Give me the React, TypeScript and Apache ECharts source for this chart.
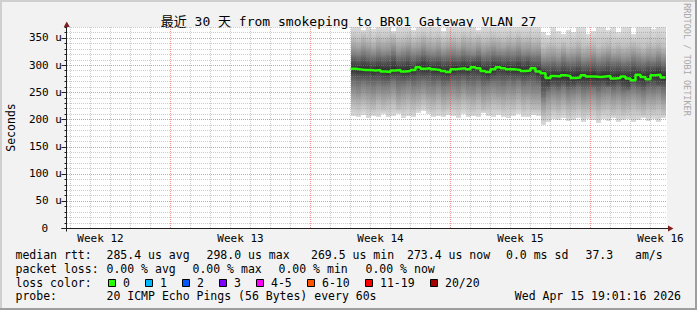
import React, { useEffect, useRef } from 'react';
import * as echarts from 'echarts';

const MONO = "'DejaVu Sans Mono', 'Noto Sans CJK SC', monospace";

// ---------- texts ----------
const titleText = '最近 30 天 from smokeping to BR01 Gateway VLAN 27';
const yAxisTitle = 'Seconds';
const watermark = 'RRDTOOL / TOBI OETIKER';

// ---------- axes ----------
// x unit: days since Tue 17 Mar 2026 00:00; the graph covers the 30 days ending Wed 15 Apr 2026 19:01
const xStart = -0.175;
const xEnd = 29.825;
const yStart = 0;
const yEnd = 370;
const yLabelStep = 50;
const yMinorStep = 10;
const weekLines = [5, 12, 19, 26];
const dayLines = [0, 1, 2, 3, 4, 6, 7, 8, 9, 10, 11, 13, 14, 15, 16, 17, 18, 20, 21, 22, 23, 24, 25, 27, 28, 29];
const weekLabels = ['Week 12', 'Week 13', 'Week 14', 'Week 15', 'Week 16'];
const weekLabelDays = [1.5, 8.5, 15.5, 22.5, 29.5];

// ---------- samples (6 h steps from day 14) ----------
const sampleStart = 14;
const sampleStep = 0.25;

const median = [
  293, 292, 291, 291, 290, 291, 288, 287, 290, 291, 288, 289, 291, 296, 293, 294, 292, 291, 289, 287,
  292, 293, 294, 292, 296, 294, 289, 287, 292, 296, 294, 292, 292, 291, 289, 290, 294, 288,
  285, 276, 280, 279, 281, 280, 276, 277, 281, 279, 279, 278, 279, 280, 275, 276, 279, 275, 272, 282,
  278, 274, 281, 282, 277,
];
// smoke band edges (us), outermost first
const smokeTop = [
  375, 375, 364, 375, 366, 375, 375, 375, 363, 375, 375, 375, 365, 375, 375, 375, 375, 375, 362, 375,
  375, 375, 375, 375, 375, 364, 375, 375, 375, 375, 375, 375, 375, 375, 375, 375, 375, 375,
  360, 356, 375, 362, 358, 365, 360, 375, 375, 358, 362, 375, 375, 364, 375, 360, 375, 375, 357, 375,
  375, 375, 366, 375, 370,
];
const smokeBottom = [
  206, 204, 208, 203, 207, 205, 210, 204, 206, 209, 203, 207, 205, 212, 216, 210, 205, 207, 204, 208,
  206, 203, 210, 205, 207, 204, 212, 206, 204, 208, 205, 203, 207, 210, 205, 204, 208, 206,
  190, 196, 200, 198, 202, 197, 199, 203, 196, 200, 198, 194, 200, 197, 203, 195, 199, 201, 196, 198,
  202, 197, 200, 196, 203,
];
const upper1 = [
  352, 348, 355, 350, 346, 353, 349, 351, 356, 347, 350, 354, 348, 352, 357, 351, 349, 353, 346, 350,
  352, 348, 355, 351, 349, 353, 347, 350, 354, 351, 348, 352, 350, 355, 349, 351, 347, 350,
  335, 338, 340, 336, 342, 337, 339, 344, 336, 338, 341, 335, 339, 343, 337, 340, 336, 338, 342, 339,
  335, 340, 338, 343, 337,
];
const lower1 = [
  223, 220, 225, 221, 218, 224, 219, 222, 226, 218, 221, 225, 219, 223, 228, 222, 219, 224, 217, 221,
  223, 220, 226, 222, 219, 224, 218, 221, 225, 222, 219, 223, 221, 226, 219, 222, 218, 218,
  205, 210, 216, 212, 217, 211, 214, 218, 211, 213, 216, 210, 215, 218, 212, 215, 210, 213, 217, 214,
  209, 216, 213, 218, 211,
];
const upper2 = [
  334, 331, 336, 333, 329, 335, 332, 334, 338, 330, 333, 336, 331, 334, 339, 333, 331, 335, 329, 333,
  335, 331, 337, 334, 332, 336, 330, 333, 337, 334, 331, 335, 333, 337, 332, 334, 330, 332,
  318, 321, 323, 319, 325, 320, 322, 326, 319, 321, 324, 318, 322, 325, 320, 323, 319, 321, 325, 322,
  318, 323, 321, 326, 320,
];
const lower2 = [
  243, 240, 245, 241, 238, 243, 239, 242, 246, 238, 241, 245, 239, 243, 247, 242, 239, 244, 237, 241,
  243, 240, 246, 242, 239, 244, 237, 241, 245, 242, 239, 243, 241, 246, 239, 242, 238, 238,
  222, 230, 236, 232, 237, 231, 234, 238, 231, 233, 236, 230, 235, 238, 232, 235, 230, 233, 237, 234,
  229, 236, 233, 238, 231,
];
const upper3 = [
  318, 316, 320, 317, 314, 319, 316, 318, 322, 315, 317, 320, 315, 318, 323, 318, 316, 319, 314, 317,
  319, 316, 321, 318, 316, 320, 315, 317, 321, 318, 316, 319, 317, 321, 316, 318, 315, 316,
  303, 305, 307, 304, 309, 305, 306, 310, 304, 305, 308, 303, 306, 309, 305, 307, 303, 305, 309, 306,
  303, 307, 305, 310, 304,
];
const lower3 = [
  266, 263, 267, 264, 261, 265, 262, 264, 268, 261, 263, 267, 262, 265, 269, 265, 262, 266, 260, 263,
  266, 263, 268, 264, 262, 266, 260, 263, 267, 265, 262, 266, 263, 268, 262, 265, 261, 262,
  240, 250, 256, 253, 257, 252, 254, 258, 252, 254, 256, 251, 255, 258, 252, 255, 251, 253, 257, 254,
  250, 256, 254, 258, 252,
];
const upper4 = [
  304, 302, 305, 303, 300, 304, 301, 303, 307, 300, 302, 305, 300, 303, 309, 304, 302, 304, 299, 302,
  304, 302, 306, 303, 305, 307, 300, 302, 306, 304, 301, 304, 302, 305, 300, 304, 299, 298,
  290, 289, 291, 289, 293, 290, 291, 294, 289, 290, 292, 288, 290, 293, 289, 291, 288, 289, 293, 290,
  287, 292, 291, 294, 289,
];
const lower4 = [
  283, 282, 281, 282, 280, 281, 279, 278, 281, 282, 279, 280, 282, 285, 283, 284, 282, 281, 279, 278,
  282, 283, 284, 282, 285, 283, 279, 277, 282, 285, 283, 282, 282, 281, 279, 280, 284, 278,
  262, 262, 268, 266, 268, 264, 265, 269, 267, 267, 266, 267, 268, 264, 265, 268, 264, 261, 270, 267,
  263, 268, 270, 266, 267,
];

// ---------- legend ----------
const rttRow = ['median rtt:', '285.4 us avg', '298.0 us max', '269.5 us min', '273.4 us now', '0.0 ms sd', '37.3', 'am/s'];
const lossRow = ['packet loss:', '0.00 % avg', '0.00 % max', '0.00 % min', '0.00 % now'];
const lossColorTitle = 'loss color:';
const lossLabels = ['0', '1', '2', '3', '4-5', '6-10', '11-19', '20/20'];
const lossColors = ['#26ff00', '#00b8ff', '#0059ff', '#7e00ff', '#ff00ff', '#ff5500', '#ff0000', '#a10000'];
const probeRow = ['probe:', '20 ICMP Echo Pings (56 Bytes) every 60s'];
const stampText = 'Wed Apr 15 19:01:16 2026';

// ---------- styles / layout ----------
const C_BACK = '#f2f2f2';
const C_GRID = 'rgba(143,143,143,0.45)';
const C_MGRID = 'rgba(222,79,79,0.6)';
const C_AXIS = '#1f1f1f';
const C_ARROW = '#801f1f';
const smokeShades = ['#dcdcdc', '#c2c2c2', '#a0a0a0', '#787878', '#4e4e4e', '#2c2c2c'];
const rttX = [15.5, 106.5, 206.5, 311, 407, 506, 585.5, 635];
const lossX = [15.5, 106.5, 192.5, 278.5, 365.5];
const boxX = [108, 145, 182, 219, 256, 307, 365, 430];
const rowY = [255, 268.5, 282.5, 296];

const clamp01 = (v: number) => Math.max(0, Math.min(1, v));

function buildOption() {
  const times = median.map((_, i) => sampleStart + i * sampleStep);
  const bands = [
    [smokeBottom, smokeTop],
    [lower1, upper1],
    [lower2, upper2],
    [lower3, upper3],
    [lower4, upper4],
  ];

  const bandSeries = bands.map(([lo, hi], b) => {
    const inner = b + 1 < bands.length ? bands[b + 1] : [median, median];
    return {
      type: 'custom',
      silent: true,
      clip: true,
      z: 1,
      data: times.map((t, i) => [t, lo[i], hi[i], inner[0][i], inner[1][i]]),
      encode: { x: 0, y: [1, 2] },
      renderItem: (_p: any, api: any) => {
        const t = api.value(0);
        const loV = api.value(1);
        const hiV = Math.min(api.value(2), yEnd);
        const inLo = api.value(3);
        const inHi = Math.min(api.value(4), yEnd);
        const p1 = api.coord([t, hiV]);
        const p2 = api.coord([t + sampleStep, loV]);
        const x1 = Math.round(p1[0]);
        const x2 = Math.round(p2[0]);
        const y1 = Math.round(p1[1]);
        const y2 = Math.round(p2[1]);
        const span = hiV - loV || 1;
        const f1 = clamp01((hiV - inHi) / span);
        const f2 = clamp01((hiV - inLo) / span);
        const fill = new echarts.graphic.LinearGradient(0, 0, 0, 1, [
          { offset: 0, color: smokeShades[b] },
          { offset: f1, color: smokeShades[b + 1] },
          { offset: Math.max(f1, f2), color: smokeShades[b + 1] },
          { offset: 1, color: smokeShades[b] },
        ]);
        return {
          type: 'rect',
          shape: { x: x1, y: y1, width: x2 - x1, height: y2 - y1 },
          style: { fill },
        };
      },
    };
  });

  const yMinorLines: number[] = [];
  const yMajorLines: number[] = [];
  const yTicks: number[] = [];
  for (let v = yStart; v <= yEnd; v += yMinorStep) {
    yTicks.push(v);
    if (v === yStart) continue;
    if (v % yLabelStep === 0) yMajorLines.push(v);
    else yMinorLines.push(v);
  }

  const hLines = (values: number[], color: string) => ({
    type: 'custom',
    silent: true,
    clip: false,
    z: 3,
    data: values.map((v) => [xStart, v]),
    renderItem: (_p: any, api: any) => {
      const a = api.coord([xStart, api.value(1)]);
      const b = api.coord([xEnd, api.value(1)]);
      const y = Math.round(a[1]) + 0.5;
      return {
        type: 'line',
        shape: { x1: Math.round(a[0]), y1: y, x2: Math.round(b[0]), y2: y },
        style: { stroke: color, lineWidth: 1, lineDash: [1, 1] },
      };
    },
  });

  const vLines = (days: number[], color: string) => ({
    type: 'custom',
    silent: true,
    clip: false,
    z: 3,
    data: days.map((d) => [d, yStart]),
    renderItem: (_p: any, api: any) => {
      const a = api.coord([api.value(0), yStart]);
      const b = api.coord([api.value(0), yEnd]);
      const x = Math.floor(a[0]) + 0.5;
      return {
        type: 'line',
        shape: { x1: x, y1: Math.round(a[1]), x2: x, y2: Math.round(b[1]) },
        style: { stroke: color, lineWidth: 1, lineDash: [1, 1] },
      };
    },
  });

  const axesSeries = {
    type: 'custom',
    silent: true,
    clip: false,
    z: 6,
    data: [[xStart, yStart]],
    renderItem: (_p: any, api: any) => {
      const o = api.coord([xStart, yStart]);
      const t = api.coord([xStart, yEnd]);
      const r = api.coord([xEnd, yStart]);
      const x0 = Math.floor(o[0]) - 0.5;
      const y0 = Math.round(o[1]) + 0.5;
      const top = Math.round(t[1]);
      const right = Math.round(r[0]) + 1;
      const children: any[] = [];
      yTicks.forEach((v) => {
        const p = api.coord([xStart, v]);
        const y = Math.round(p[1]) + 0.5;
        const len = v % yLabelStep === 0 ? 5 : 2;
        children.push({
          type: 'line',
          shape: { x1: x0 - len, y1: y, x2: x0, y2: y },
          style: { stroke: C_AXIS, lineWidth: 1 },
        });
      });
      children.push({
        type: 'line',
        shape: { x1: x0, y1: y0 + 3, x2: x0, y2: top },
        style: { stroke: C_AXIS, lineWidth: 1 },
      });
      children.push({
        type: 'line',
        shape: { x1: x0 - 5, y1: y0, x2: right, y2: y0 },
        style: { stroke: C_AXIS, lineWidth: 1 },
      });
      children.push({
        type: 'polygon',
        shape: { points: [[x0 - 2.75, top], [x0 + 3.25, top], [x0 + 0.25, top - 5.5]] },
        style: { fill: C_ARROW },
      });
      children.push({
        type: 'polygon',
        shape: { points: [[right, y0 - 3], [right, y0 + 3], [right + 5.5, y0]] },
        style: { fill: C_ARROW },
      });
      return { type: 'group', children };
    },
  };

  const weekLabelSeries = {
    type: 'custom',
    silent: true,
    clip: false,
    z: 6,
    data: weekLabelDays.map((d, i) => [d, yStart, i]),
    renderItem: (_p: any, api: any) => {
      const p = api.coord([api.value(0), yStart]);
      return {
        type: 'text',
        x: p[0],
        y: p[1] + 10,
        style: {
          text: weekLabels[api.value(2)],
          fill: '#000',
          fontSize: 11,
          fontFamily: MONO,
          textAlign: 'center',
          textVerticalAlign: 'middle',
        },
      };
    },
  };

  const medianData = times.map((t, i) => [t, median[i]]);
  medianData.push([times[times.length - 1] + sampleStep, median[median.length - 1]]);
  const medianSeries = {
    type: 'line',
    data: medianData,
    step: 'end',
    symbol: 'none',
    silent: true,
    z: 8,
    lineStyle: { color: lossColors[0], width: 2.5 },
  };

  const txt = (x: number, y: number, text: string, size = 11.5, extra: any = {}) => ({
    type: 'text',
    x,
    y,
    silent: true,
    ...extra,
    style: {
      text,
      fill: '#000',
      fontSize: size,
      fontFamily: MONO,
      textAlign: 'left',
      textVerticalAlign: 'middle',
      ...(extra.style || {}),
    },
  });

  const graphic: any[] = [
    { type: 'rect', silent: true, shape: { x: 0, y: 0, width: 697, height: 2 }, style: { fill: '#cfcfcf' } },
    { type: 'rect', silent: true, shape: { x: 0, y: 0, width: 2, height: 310 }, style: { fill: '#cfcfcf' } },
    { type: 'rect', silent: true, shape: { x: 0, y: 308, width: 697, height: 2 }, style: { fill: '#9e9e9e' } },
    { type: 'rect', silent: true, shape: { x: 695, y: 0, width: 2, height: 310 }, style: { fill: '#9e9e9e' } },
    txt(348.5, 21.5, titleText, 13, { style: { textAlign: 'center' } }),
    txt(10.5, 127.5, yAxisTitle, 11.5, { rotation: Math.PI / 2, style: { textAlign: 'center' } }),
    txt(687, 59.5, watermark, 8.5, { rotation: -Math.PI / 2, style: { textAlign: 'center', fill: '#a8a8a8' } }),
  ];
  rttRow.forEach((s, i) => graphic.push(txt(rttX[i], rowY[0], s)));
  lossRow.forEach((s, i) => graphic.push(txt(lossX[i], rowY[1], s)));
  graphic.push(txt(15.5, rowY[2], lossColorTitle));
  lossLabels.forEach((s, i) => {
    graphic.push({
      type: 'rect',
      silent: true,
      shape: { x: boxX[i] + 0.5, y: rowY[2] - 3, width: 7, height: 7 },
      style: { fill: lossColors[i], stroke: '#000', lineWidth: 1 },
    });
    graphic.push(txt(boxX[i] + 15, rowY[2], s));
  });
  graphic.push(txt(15.5, rowY[3], probeRow[0]));
  graphic.push(txt(106.5, rowY[3], probeRow[1]));
  graphic.push(txt(681, rowY[3], stampText, 11.5, { style: { textAlign: 'right' } }));

  return {
    animation: false,
    backgroundColor: C_BACK,
    grid: {
      left: 67,
      top: 27,
      width: 600,
      height: 201,
      show: true,
      backgroundColor: '#ffffff',
      borderWidth: 0,
      containLabel: false,
      outerBoundsMode: 'none',
    },
    xAxis: {
      type: 'value',
      min: xStart,
      max: xEnd,
      axisLine: { show: false },
      axisTick: { show: false },
      axisLabel: { show: false },
      splitLine: { show: false },
    },
    yAxis: {
      type: 'value',
      min: yStart,
      max: yEnd,
      interval: yLabelStep,
      axisLine: { show: false },
      axisTick: { show: false },
      splitLine: { show: false },
      axisLabel: {
        margin: 5,
        color: '#000',
        fontSize: 11,
        fontFamily: MONO,
        showMaxLabel: false,
        formatter: (v: number) => {
          if (v === 0) return '{z|0}';
          if (v % yLabelStep === 0 && v < yEnd) return v + ' u';
          return '';
        },
        rich: {
          z: { padding: [0, 14, 0, 0], color: '#000', fontSize: 11, fontFamily: MONO },
        },
      },
    },
    graphic,
    series: [
      ...bandSeries,
      hLines(yMinorLines, C_GRID),
      vLines(dayLines, C_GRID),
      hLines(yMajorLines, C_MGRID),
      vLines(weekLines, C_MGRID),
      axesSeries,
      weekLabelSeries,
      medianSeries,
    ],
  };
}

export default function App() {
  const ref = useRef<HTMLDivElement>(null);
  useEffect(() => {
    if (!ref.current) return;
    const chart = echarts.init(ref.current, undefined, { renderer: 'svg' });
    chart.setOption(buildOption() as any);
    return () => chart.dispose();
  }, []);
  return <div ref={ref} style={{ position: 'fixed', left: 0, top: 0, width: 697, height: 310 }} />;
}
